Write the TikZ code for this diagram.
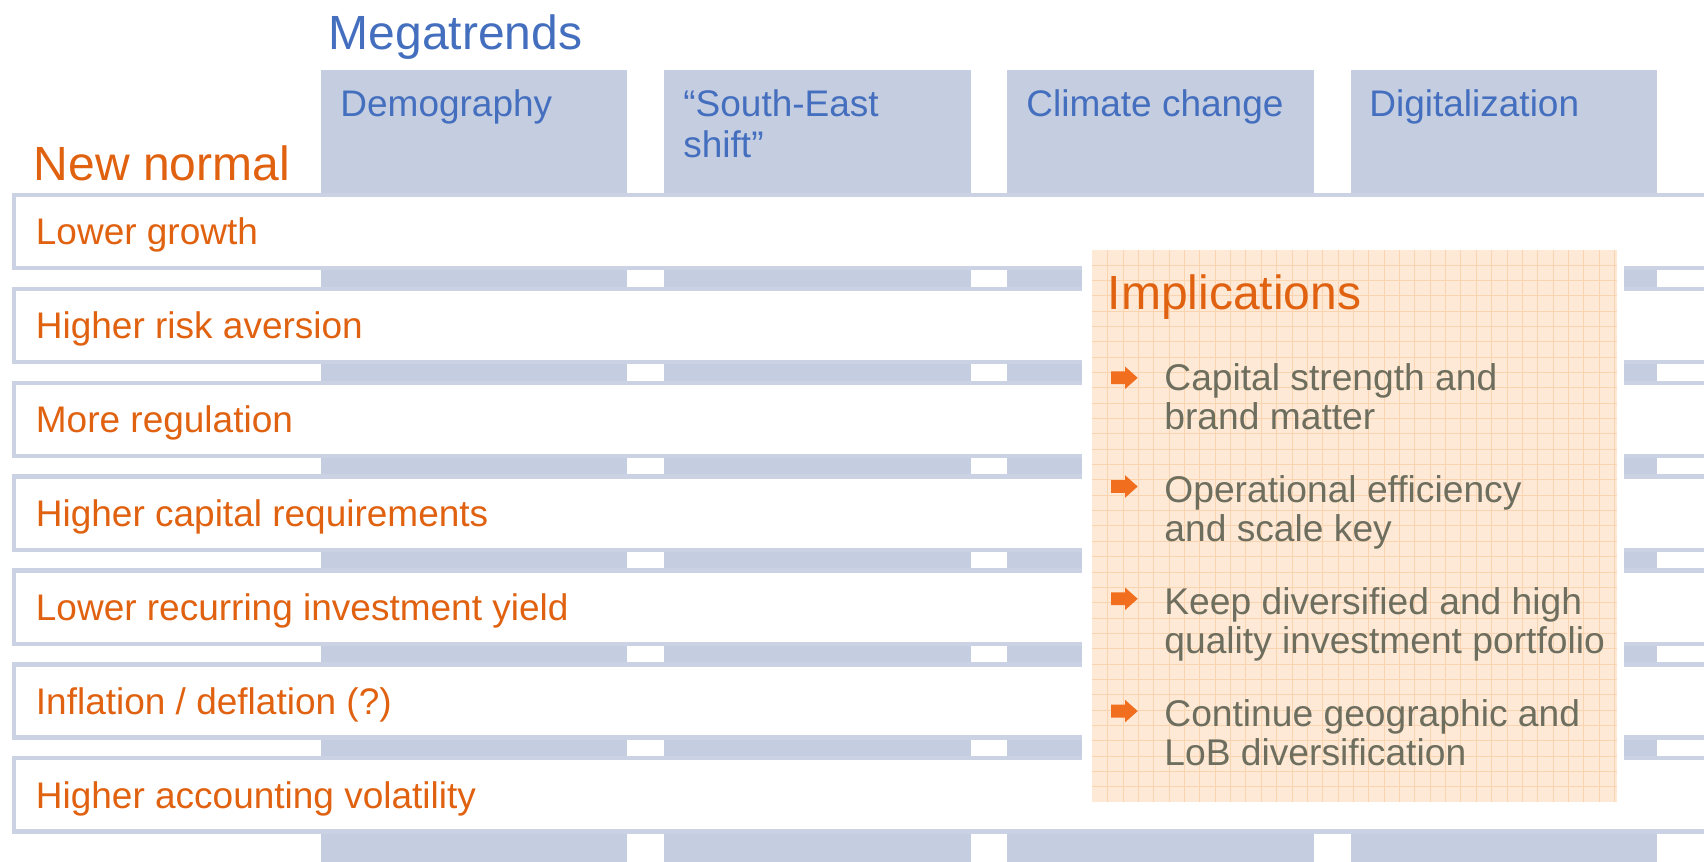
\documentclass[tikz,border=0pt]{standalone}
\usepackage{fontspec}
\setmainfont{Liberation Sans}
\definecolor{colblue}{RGB}{197,206,225}
\definecolor{rowline}{RGB}{202,210,228}
\definecolor{orangeT}{RGB}{224,98,16}
\definecolor{blueT}{RGB}{68,110,190}
\definecolor{grayT}{RGB}{110,110,95}
\definecolor{arrowO}{RGB}{240,110,30}
\definecolor{peach}{RGB}{253,233,213}
\definecolor{gridO}{RGB}{250,212,175}
\begin{document}
\begin{tikzpicture}[x=0.5pt,y=-0.5pt,
  bigtitle/.style={inner sep=0pt, anchor=base west, font=\fontsize{24}{26}\selectfont},
  hdr/.style={inner sep=0pt, anchor=base west, text=blueT, align=left, font=\fontsize{18.5}{20.5}\selectfont},
  rowlabel/.style={inner sep=0pt, anchor=base west, text=orangeT, font=\fontsize{18.5}{19.5}\selectfont},
  bullettext/.style={inner sep=0pt, anchor=base west, text=grayT, align=left, font=\fontsize{18.6}{19.5}\selectfont},
  rowbox/.style={fill=white, draw=rowline, line width=2.15pt},
  bularrow/.pic={\fill[arrowO] (0,-6.4) -- (14,-6.4) -- (14,-11.3) -- (26.7,0) -- (14,11.3) -- (14,6.4) -- (0,6.4) -- cycle;}
]
\useasboundingbox (0,0) rectangle (1704,862);
\clip (0,0) rectangle (1704,862);
\fill[white] (0,0) rectangle (1704,862);
% megatrend columns
\foreach \i in {0,1,2,3} {
  \fill[colblue] ({320.6+343.4*\i},69.5) rectangle ({627.1+343.4*\i},880);
}
% new-normal rows
\foreach \i in {0,...,6} {
  \draw[rowbox] (14.15,{192.7+93.9*\i+2.15}) rectangle (1740,{192.7+93.9*\i+77.5-2.15});
}
% titles
\node[bigtitle, text=blueT] (mega) at (328.5,49) {Megatrends};
\node[bigtitle, text=orangeT] (newnormal) at (33.5,180) {New normal};
% column headers (multi-line nodes are anchored at the baseline of the last line)
\node[hdr] (demo) at (340,116) {Demography};
\node[hdr] (south) at (683,157) {“South-East\\shift”};
\node[hdr] (climate) at (1026,116) {Climate change};
\node[hdr] (digital) at (1369,116) {Digitalization};
% row labels
\node[rowlabel] (r1) at (35.5,{192.7+52+93.9*0}) {Lower growth};
\node[rowlabel] (r2) at (35.5,{192.7+52+93.9*1}) {Higher risk aversion};
\node[rowlabel] (r3) at (35.5,{192.7+52+93.9*2}) {More regulation};
\node[rowlabel] (r4) at (35.5,{192.7+52+93.9*3}) {Higher capital requirements};
\node[rowlabel] (r5) at (35.5,{192.7+52+93.9*4}) {Lower recurring investment yield};
\node[rowlabel] (r6) at (35.5,{192.7+52+93.9*5}) {Inflation / deflation (?)};
\node[rowlabel] (r7) at (35.5,{192.7+52+93.9*6}) {Higher accounting volatility};
% implications box
\fill[white] (1082,241) rectangle (1624,811);
\fill[peach] (1092,250) rectangle (1616.5,801.5);
\begin{scope}
\clip (1092,250) rectangle (1616.5,801.5);
\foreach \k in {0,...,33} { \draw[gridO, line width=0.5pt] ({1107.7+15.36*\k},250) -- ({1107.7+15.36*\k},801.5); }
\foreach \k in {0,...,34} { \draw[gridO, line width=0.5pt] (1092,{265+15.35*\k}) -- (1616.5,{265+15.35*\k}); }
\end{scope}
\node[bigtitle, text=orangeT] (impl) at (1107.5,309) {Implications};
\pic at (1111,377.8) {bularrow};
\pic at (1111,486.5) {bularrow};
\pic at (1111,598.8) {bularrow};
\pic at (1111,711.1) {bularrow};
\node[bullettext] (b1) at (1164,429) {Capital strength and\\brand matter};
\node[bullettext] (b2) at (1164,541.3) {Operational efficiency\\and scale key};
\node[bullettext] (b3) at (1164,653.6) {Keep diversified and high\\quality investment portfolio};
\node[bullettext] (b4) at (1164,765.9) {Continue geographic and\\LoB diversification};
\end{tikzpicture}
\end{document}
